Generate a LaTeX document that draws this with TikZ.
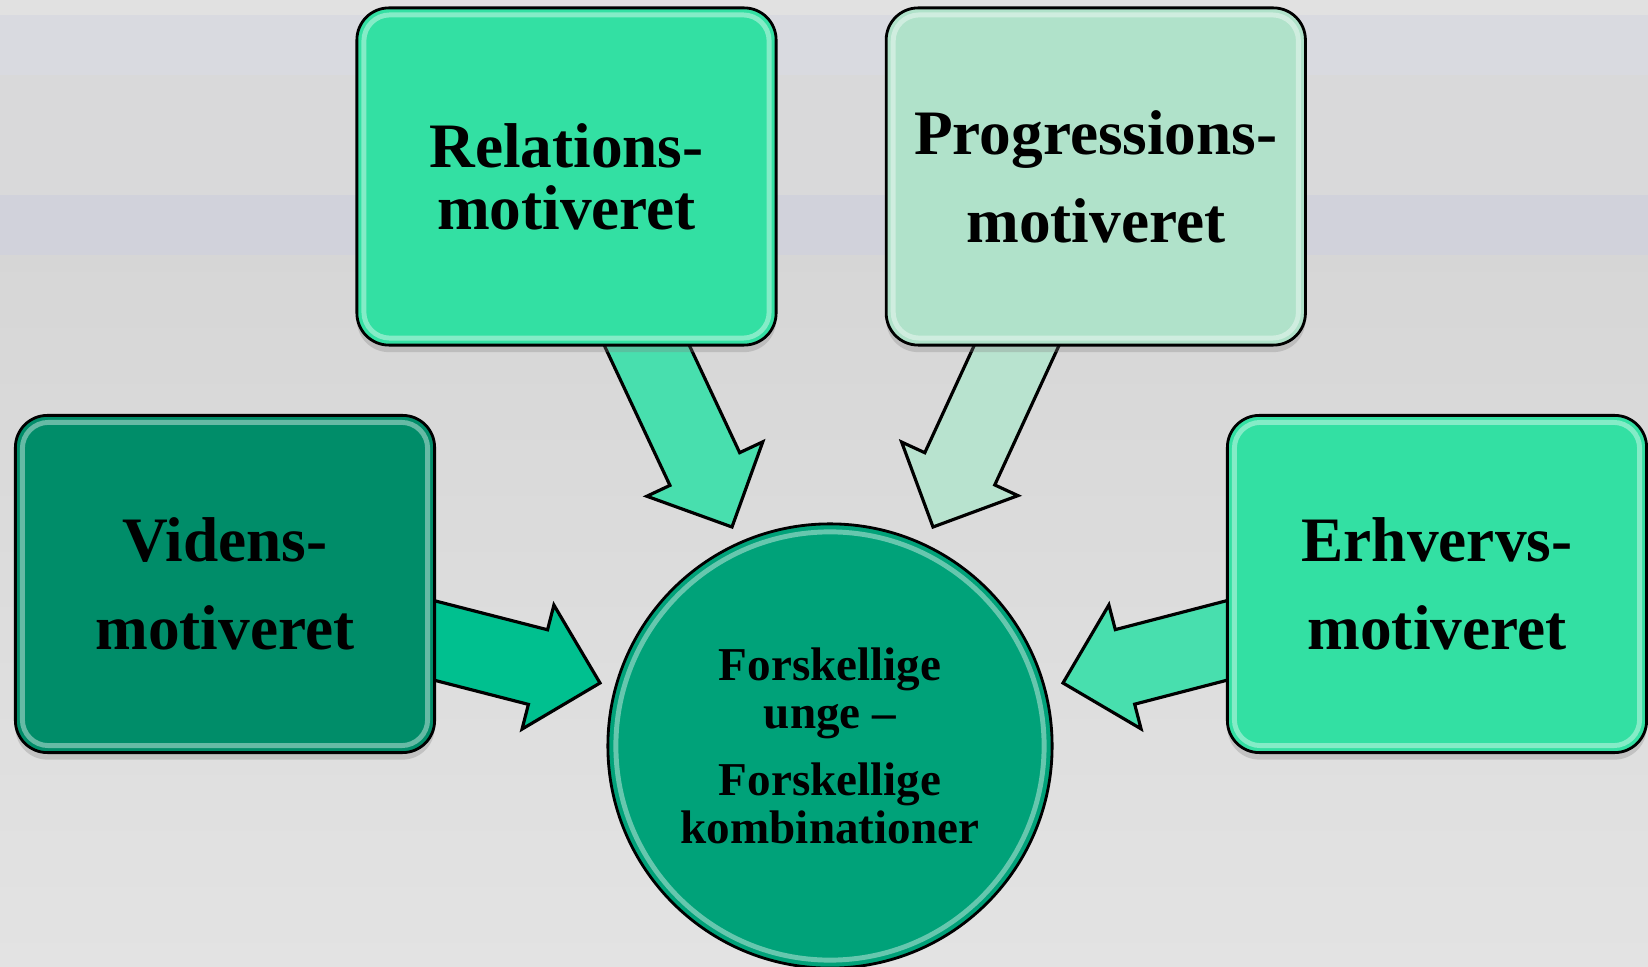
\documentclass[tikz,border=0pt]{standalone}
\usepackage{fontspec}
\setmainfont{Liberation Serif}
\usetikzlibrary{positioning, calc, shadows}

\definecolor{mintbox}{HTML}{33E0A3}
\definecolor{palebox}{HTML}{B0E2CA}
\definecolor{darkbox}{HTML}{008D69}
\definecolor{hubgreen}{HTML}{00A279}
\definecolor{mintarrow}{HTML}{48DFAE}
\definecolor{palearrow}{HTML}{B8E3CF}
\definecolor{deeparrow}{HTML}{00C08F}

\pgfdeclarelayer{back}
\pgfdeclarelayer{mid}
\pgfsetlayers{back,mid,main}

% block arrow from #1 (start, under the box) to #2 (tip)
\newcommand{\motivarrow}[3]{%
  \coordinate (hb) at ($(#2)!0.64cm!(#1)$);
  \filldraw[fill=#3, arrowline]
    ($(#1)!0.385cm!90:(#2)$) -- ($(hb)!0.385cm!90:(#2)$) -- ($(hb)!0.64cm!90:(#2)$)
    -- (#2) -- ($(hb)!0.64cm!-90:(#2)$) -- ($(hb)!0.385cm!-90:(#2)$)
    -- ($(#1)!0.385cm!-90:(#2)$) -- cycle;
}

\begin{document}
\begin{tikzpicture}[x=0.01cm, y=-0.01cm,
  motive/.style={rectangle, rounded corners=0.32cm, draw=black, line width=0.8pt,
    minimum width=4.19cm, minimum height=3.37cm, align=center, inner sep=0pt, outer sep=0pt,
    font=\bfseries\fontsize{18}{25}\selectfont,
    drop shadow={shadow xshift=0pt, shadow yshift=-2pt, opacity=0.3}},
  hub/.style={circle, draw=black, line width=0.8pt, fill=hubgreen, minimum size=4.44cm,
    align=center, inner sep=0pt, font=\bfseries\fontsize{13.4}{13.6}\selectfont},
  glint/.style={white, opacity=0.4, line width=1.4pt, rounded corners=0.26cm},
  arrowline/.style={draw=black, line width=0.9pt, line join=miter}]

\useasboundingbox (0,0) rectangle (1648,967);

\begin{pgfonlayer}{back}
  \fill[top color=black!16, bottom color=black!11] (0,255) rectangle (1648,967);
  \fill[color={rgb,255:red,225;green,225;blue,225}] (0,0) rectangle (1648,15);
  \fill[color={rgb,255:red,217;green,218;blue,224}] (0,15) rectangle (1648,75);
  \fill[color={rgb,255:red,217;green,217;blue,218}] (0,75) rectangle (1648,195);
  \fill[color={rgb,255:red,209;green,210;blue,219}] (0,195) rectangle (1648,255);
\end{pgfonlayer}

\node[motive, fill=mintbox, font=\bfseries\fontsize{18}{17.6}\selectfont] (rel) at (566.5,176.5) {Relations-\\motiveret};
\node[motive, fill=palebox] (prog) [right=1.1cm of rel] {Progressions-\\motiveret};
\node[motive, fill=darkbox] (vid) at (225,584) {Videns-\\motiveret};
\node[motive, fill=mintbox] (erh) at (1437,584) {Erhvervs-\\motiveret};

\node[hub] (hub) at (830,746) {Forskellige\\unge –\\[5.5pt]Forskellige\\kombinationer};

\foreach \n in {rel,prog,vid,erh}
  \draw[glint] ($(\n.south west)+(7,-7)$) rectangle ($(\n.north east)+(-7,7)$);
\draw[white, opacity=0.4, line width=1.4pt] (hub.center) circle (2.14cm);

\coordinate (relout) at ($(rel.south)+(70.5,-20.6)$);
\coordinate (progout) at ($(prog.south)+(-69.5,-20.7)$);
\coordinate (vidout) at ($(vid.east)+(-12.6,53.3)$);
\coordinate (erhout) at ($(erh.west)+(11.6,53.3)$);
\coordinate (reltip) at (732,527);
\coordinate (progtip) at (933,527);
\coordinate (vidtip) at (600,683);
\coordinate (erhtip) at (1063,683);

\begin{pgfonlayer}{mid}
  \motivarrow{relout}{reltip}{mintarrow}
  \motivarrow{progout}{progtip}{palearrow}
  \motivarrow{vidout}{vidtip}{deeparrow}
  \motivarrow{erhout}{erhtip}{mintarrow}
\end{pgfonlayer}

\end{tikzpicture}
\end{document}
